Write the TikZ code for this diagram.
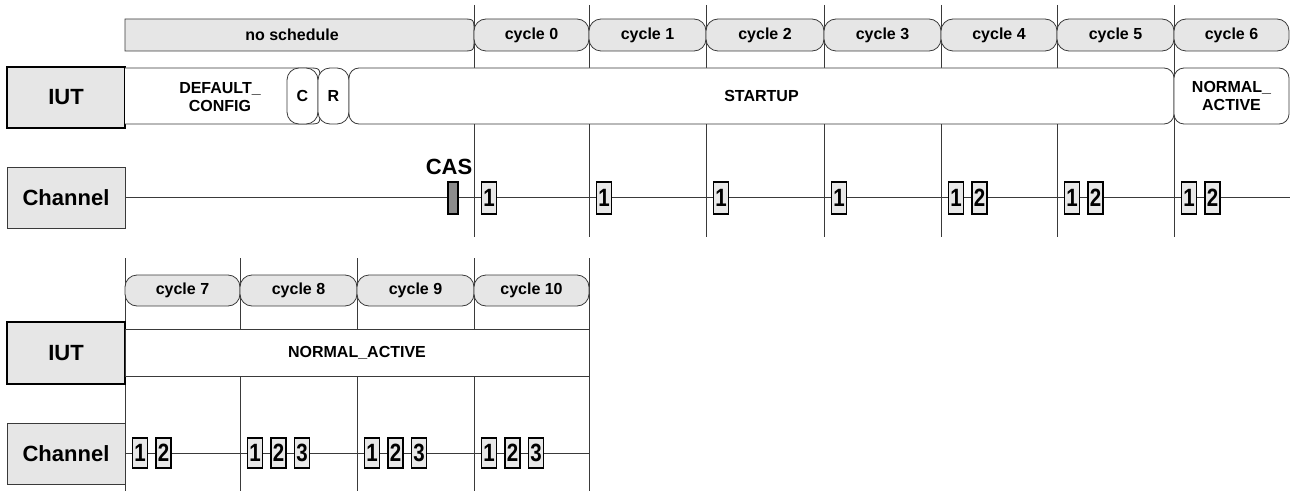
\documentclass[tikz,border=0pt]{standalone}
\usepackage{fontspec}
\setmainfont{Liberation Sans}
\definecolor{boxgray}{HTML}{E6E6E6}
\definecolor{framegray}{HTML}{E8E8E8}
\definecolor{casgray}{HTML}{8C8C8C}
\definecolor{linegray}{HTML}{3A3A3A}
\newcommand{\dgt}[1]{\scalebox{0.82}[1]{#1}}
\begin{document}
\begin{tikzpicture}[x=1pt,y=-1pt,
  every node/.style={inner sep=0pt, outer sep=0pt},
  sched/.style={draw=linegray, fill=boxgray, line width=0.8pt, rounded corners=12pt, minimum height=32pt, font=\fontsize{16}{18}\selectfont\bfseries},
  stbox/.style={draw=linegray, fill=white, line width=0.8pt, rounded corners=10pt, minimum height=56pt, align=center, font=\fontsize{16}{18.5}\selectfont\bfseries},
  lane/.style={draw=black, fill=boxgray, line width=1.2pt, minimum width=118pt, minimum height=61pt, font=\fontsize{22}{24}\selectfont\bfseries},
  msgbox/.style={draw=black, fill=framegray, line width=1.2pt, minimum width=15pt, minimum height=32pt, font=\fontsize{25}{25}\selectfont\bfseries},
  vline/.style={draw=linegray, line width=0.9pt},
  chline/.style={draw=linegray, line width=0.9pt},
  txt/.style={font=\fontsize{16}{18.5}\selectfont\bfseries, align=center},
]
\useasboundingbox (0,0) rectangle (1290,492);

% ---------------- top part ----------------
\foreach \x [count=\i] in {474,589,706,824,941,1057,1174} {
  \coordinate (vt\i) at (\x,5);
  \coordinate (vb\i) at (\x,237);
  \draw[vline] (vt\i) -- (vb\i);
}
\node[lane] (iutA) at (66,97.5) {IUT};
\node[lane, line width=1pt, draw=linegray] (chA) at (66,197.5) {Channel};
\coordinate (chAend) at (1290,197);
\draw[chline] (chA.east |- chAend) -- (chAend);

% schedule bar
\filldraw[draw=linegray, fill=boxgray, line width=0.8pt]
  (125,51) -- (125,19) -- (462,19) .. controls (474,19) .. (474,31)
  -- (474,39) .. controls (474,51) .. (462,51) -- cycle;
\node[txt] (nosched) at (292,35) {no schedule};
\foreach \cx/\w/\n in {531.5/115/0, 647.5/117/1, 765/118/2, 882.5/117/3, 999/116/4, 1115.5/117/5, 1231.5/115/6} {
  \node[sched, minimum width=\w pt] (cyc\n) at (\cx,35) {cycle \n};
}

% IUT states
\filldraw[draw=linegray, fill=white, line width=0.8pt]
  (125,68) -- (308,68) .. controls (320,68) .. (320,80)
  -- (320,112) .. controls (320,124) .. (308,124) -- (125,124);
\node[txt] (defcfg) at (220,97) {DEFAULT\_\\CONFIG};
\node[stbox, minimum width=31pt, rounded corners=12pt] (cst) at (302.5,96) {C};
\node[stbox, minimum width=31pt, rounded corners=12pt] (rst) at (333.5,96) {R};
\node[stbox, minimum width=825pt] (startup) at (761.5,96) {STARTUP};
\node[stbox, minimum width=115pt] (normA) at (1231.5,96) {NORMAL\_\\ACTIVE};

% channel frames
\node[draw=black, fill=casgray, line width=1.2pt, minimum width=10pt, minimum height=32pt] (cas) at (453,198) {};
\node[font=\fontsize{22}{22}\selectfont\bfseries] (caslbl) at (449,167) {CAS};
\foreach \cx/\t/\n in {489/1/a, 604/1/b, 721/1/c, 839/1/d, 956/1/e, 979.5/2/f, 1072/1/g, 1095.5/2/h, 1189/1/i, 1212.5/2/j} {
  \node[msgbox] (fr\n) at (\cx,198) {\dgt{\t}};
}

% ---------------- bottom part ----------------
\foreach \x [count=\i] in {125,240,357,474,589} {
  \coordinate (wt\i) at (\x,258);
  \coordinate (wb\i) at (\x,491);
  \draw[vline] (wt\i) -- (wb\i);
}
\node[lane, minimum height=62pt] (iutB) at (66,353) {IUT};
\node[lane, line width=1pt, draw=linegray] (chB) at (66,453.5) {Channel};
\coordinate (chBend) at (589,453);
\draw[chline] (chB.east |- chBend) -- (chBend);

\foreach \cx/\w/\n in {182.5/115/7, 298.5/117/8, 415.5/117/9, 531.5/115/10} {
  \node[sched, minimum width=\w pt, minimum height=31pt] (cyc\n) at (\cx,290.5) {cycle \n};
}
\node[draw=linegray, fill=white, line width=0.8pt, minimum width=464pt, minimum height=47pt, font=\fontsize{16}{18}\selectfont\bfseries] (normB) at (357,352.5) {NORMAL\_ACTIVE};

\foreach \cx/\t/\n in {140/1/a, 163.5/2/b, 255/1/c, 278.5/2/d, 302/3/e, 372/1/f, 395.5/2/g, 419/3/h, 489/1/i, 512.5/2/j, 536/3/k} {
  \node[msgbox, minimum height=30pt] (gr\n) at (\cx,453) {\dgt{\t}};
}
\end{tikzpicture}
\end{document}
